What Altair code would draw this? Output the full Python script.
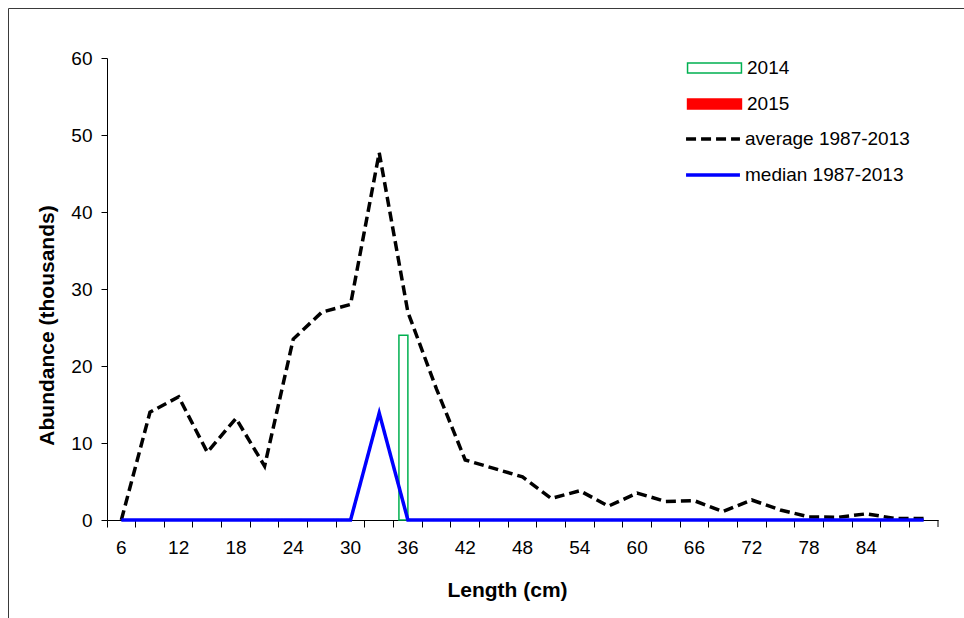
import altair as alt
import pandas as pd

# Length classes (cm), one band per 3 cm class
lengths = [6, 9, 12, 15, 18, 21, 24, 27, 30, 33, 36, 39, 42, 45, 48,
           51, 54, 57, 60, 63, 66, 69, 72, 75, 78, 81, 84, 87, 90]

# Abundance (thousands) per length class
average_1987_2013 = [0, 14, 16, 8.8, 13.2, 7, 23.5, 27, 28, 47.7, 27, 17, 7.8, 6.7, 5.6,
                     2.8, 3.8, 1.8, 3.5, 2.4, 2.5, 1.1, 2.6, 1.3, 0.4, 0.35, 0.8, 0.2, 0.2]
median_1987_2013 = [0, 0, 0, 0, 0, 0, 0, 0, 0, 13.9, 0, 0, 0, 0, 0,
                    0, 0, 0, 0, 0, 0, 0, 0, 0, 0, 0, 0, 0, 0]
survey_2014 = [0, 0, 0, 0, 0, 0, 0, 0, 0, 0, 24, 0, 0, 0, 0,
               0, 0, 0, 0, 0, 0, 0, 0, 0, 0, 0, 0, 0, 0]
survey_2015 = [0, 0, 0, 0, 0, 0, 0, 0, 0, 0, 0, 0, 0, 0, 0,
               0, 0, 0, 0, 0, 0, 0, 0, 0, 0, 0, 0, 0, 0]

years = ["2014", "2015"]
line_names = ["average 1987-2013", "median 1987-2013"]

n = len(lengths)
bars_df = pd.DataFrame({
    "Length": lengths * 2,
    "Year": [years[0]] * n + [years[1]] * n,
    "Abundance": survey_2014 + survey_2015,
})
lines_df = pd.DataFrame({
    "Length": lengths * 2,
    "Series": [line_names[0]] * n + [line_names[1]] * n,
    "Abundance": average_1987_2013 + median_1987_2013,
})

FONT = "Liberation Sans"
W, H = 831, 462

x_enc = alt.X(
    "Length:O",
    sort="ascending",
    scale=alt.Scale(paddingInner=0, paddingOuter=0),
    axis=alt.Axis(
        title="Length (cm)",
        labelAngle=0,
        bandPosition=0,
        labelExpr="datum.value % 6 == 0 && datum.value < 90 ? datum.label : ''",
        tickSize=7,
        labelPadding=11,
        titleX=400,
        titleY=70,
        titleBaseline="middle",
        titleAlign="center",
    ),
)

y_enc = alt.Y(
    "Abundance:Q",
    scale=alt.Scale(domain=[0, 60], nice=False),
    axis=alt.Axis(
        title="Abundance (thousands)",
        values=[0, 10, 20, 30, 40, 50, 60],
        grid=False,
        tickSize=6,
        labelPadding=9,
        titleAngle=270,
        titleX=-60,
        titleY=267,
        titleBaseline="middle",
        titleAlign="center",
    ),
)

bar_legend = alt.Legend(
    title=None,
    orient="none",
    legendX=598,
    legendY=0.5,
    padding=0,
    symbolType="M-3.85,-0.7H3.85V0.7H-3.85Z",
    symbolSize=196,
    symbolStrokeWidth=1.5,
    labelFont=FONT,
    labelFontSize=19,
    labelColor="black",
    labelOffset=23,
    labelLimit=400,
    rowPadding=16,
)

line_legend = alt.Legend(
    title=None,
    orient="none",
    legendX=596.5,
    legendY=71.5,
    padding=0,
    symbolType="M-3.85,0H3.85",
    symbolSize=196,
    symbolStrokeWidth=3.5,
    labelFont=FONT,
    labelFontSize=19,
    labelColor="black",
    labelOffset=22.5,
    labelLimit=400,
    rowPadding=16,
)

bars = alt.Chart(bars_df).transform_filter("datum.Abundance > 0").mark_bar(
    strokeWidth=1.5
).encode(
    x=x_enc,
    xOffset=alt.XOffset("Year:N", scale=alt.Scale(domain=years, paddingOuter=0.6, paddingInner=0)),
    y=y_enc,
    fill=alt.Fill("Year:N", scale=alt.Scale(domain=years, range=["white", "#FF0000"]), legend=bar_legend),
    stroke=alt.Stroke("Year:N", scale=alt.Scale(domain=years, range=["#00B050", "#FF0000"]), legend=bar_legend),
)

lines = alt.Chart(lines_df).mark_line(strokeWidth=3.5, strokeCap="butt").encode(
    x=x_enc,
    y=y_enc,
    color=alt.Color("Series:N", scale=alt.Scale(domain=line_names, range=["#000000", "#0000FF"]), legend=line_legend),
    strokeDash=alt.StrokeDash("Series:N", scale=alt.Scale(domain=line_names, range=[[10, 5], [1, 0]]), legend=line_legend),
    order=alt.Order("Length:Q"),
)

# closing tick at the right end of the category axis
end_tick = alt.Chart(pd.DataFrame({"k": [0]})).mark_rule(color="black", strokeWidth=1).encode(
    x=alt.value(W), y=alt.value(H), y2=alt.value(H + 7)
)

# chart-area frame (left and top edges)
frame_left = alt.Chart(pd.DataFrame({"k": [0]})).mark_rule(color="#3a3a3a", strokeWidth=1).encode(
    x=alt.value(-98.5), y=alt.value(-49.5), y2=alt.value(H + 120)
)
frame_top = alt.Chart(pd.DataFrame({"k": [0]})).mark_rule(color="#3a3a3a", strokeWidth=1).encode(
    x=alt.value(-98.5), x2=alt.value(W + 60), y=alt.value(-49.5)
)

chart = alt.layer(bars, lines, end_tick, frame_left, frame_top).properties(
    width=W,
    height=H,
    autosize=alt.AutoSizeParams(type="none"),
    padding={"left": 107, "top": 58, "right": 26, "bottom": 98},
    background="white",
).configure_view(
    stroke="transparent"
).configure_axis(
    labelFont=FONT,
    labelFontSize=19,
    labelColor="black",
    titleFont=FONT,
    titleFontSize=21,
    titleFontWeight="bold",
    titleColor="black",
    domainColor="black",
    tickColor="black",
    domainWidth=1,
    tickWidth=1,
)

chart.save("out.html", embed_options={"renderer": "svg", "actions": False})
